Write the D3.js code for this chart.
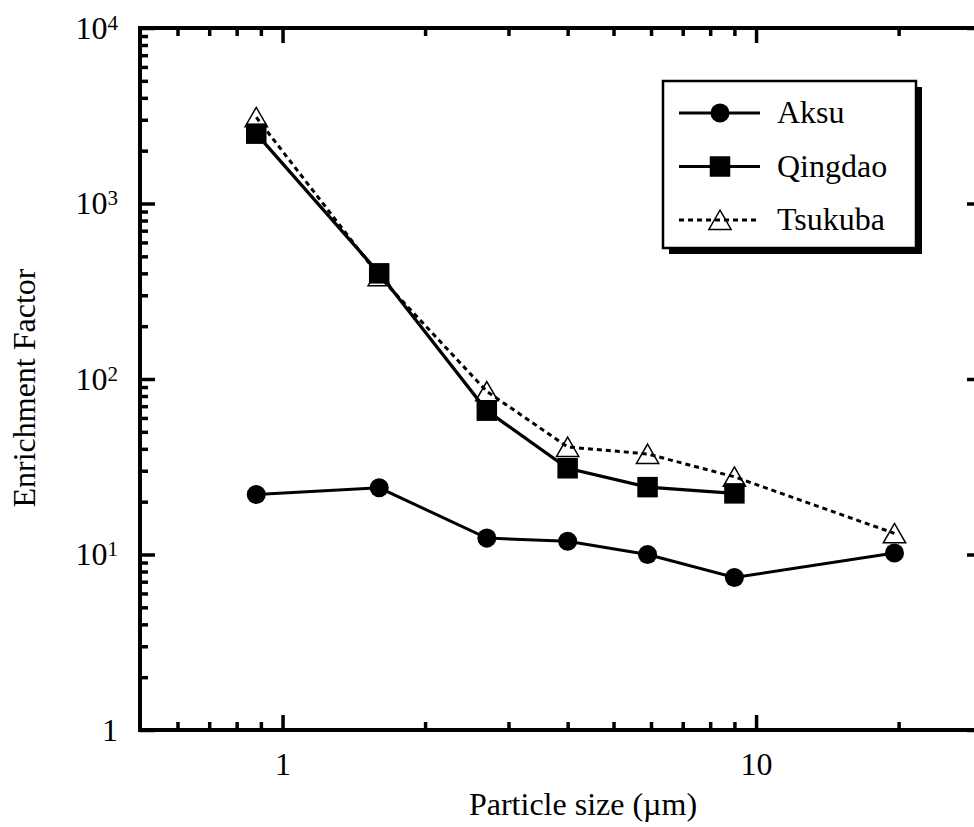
<!DOCTYPE html>
<html>
<head>
<meta charset="utf-8">
<script src="https://cdn.jsdelivr.net/npm/d3@7"></script>
<style>
  html, body { margin: 0; padding: 0; background: #fff; }
  svg { display: block; overflow: hidden; }
  text { font-family: "Liberation Serif", "Times New Roman", Times, serif; fill: #000; }
</style>
</head>
<body>
<svg id="chart" width="974" height="827"></svg>
<script>
// Particle size (µm) at each stage
const sizes = [0.88, 1.6, 2.7, 4.0, 5.9, 9.0, 19.6];

// Enrichment factors per site
const aksu    = [22, 24, 12.4, 11.9, 10, 7.4, 10.2];
const qingdao = [2500, 400, 66, 31, 24.2, 22.3];
const tsukuba = [3100, 385, 85, 41, 37.4, 27.7, 13.2];

const seriesNames = ["Aksu", "Qingdao", "Tsukuba"];

// Axis ticks
const xMajor = [1, 10];
const xMinor = [0.6, 0.7, 0.8, 0.9, 2, 3, 4, 5, 6, 7, 8, 9, 20, 30];
const xTickLabels = ["1", "10"];
const yMajor = [1, 10, 100, 1000, 10000];
const yMinor = [1, 10, 100, 1000].flatMap(d => [2, 3, 4, 5, 6, 7, 8, 9].map(k => k * d));
const yExponents = ["", "1", "2", "3", "4"];

const svg = d3.select("#chart");
const FONT = 32;

const plotL = 140, plotR = 982, plotT = 28, plotB = 730;
const x = d3.scaleLog().domain([0.5, 30]).range([plotL, plotR]);
const y = d3.scaleLog().domain([1, 10000]).range([plotB, plotT]);

// ---- axes (ticks point inward on all four sides) ----
function styleAxis(g) {
  g.attr("font-size", FONT).attr("font-family", null);
  g.select(".domain").remove();
  g.selectAll(".tick line").attr("stroke", "#000").attr("stroke-width", 3.5);
  g.selectAll(".tick text").attr("fill", "#000");
}

// bottom
svg.append("g").attr("transform", `translate(0,${plotB})`)
  .call(d3.axisBottom(x).tickValues(xMinor).tickSize(-8).tickFormat(""))
  .call(styleAxis);
svg.append("g").attr("transform", `translate(0,${plotB})`)
  .call(d3.axisBottom(x).tickValues(xMajor).tickSize(-15).tickPadding(22)
    .tickFormat((d, i) => xTickLabels[i]))
  .call(styleAxis);

// top
svg.append("g").attr("transform", `translate(0,${plotT})`)
  .call(d3.axisTop(x).tickValues(xMinor).tickSize(-8).tickFormat(""))
  .call(styleAxis);
svg.append("g").attr("transform", `translate(0,${plotT})`)
  .call(d3.axisTop(x).tickValues(xMajor).tickSize(-15).tickFormat(""))
  .call(styleAxis);

// left
svg.append("g").attr("transform", `translate(${plotL},0)`)
  .call(d3.axisLeft(y).tickValues(yMinor).tickSize(-8).tickFormat(""))
  .call(styleAxis);
const gyl = svg.append("g").attr("transform", `translate(${plotL},0)`)
  .call(d3.axisLeft(y).tickValues(yMajor).tickSize(-15).tickPadding(22).tickFormat(""))
  .call(styleAxis);
gyl.selectAll(".tick text").each(function(d, i) {
  const t = d3.select(this);
  if (yExponents[i] === "") {
    t.text("1");
  } else {
    t.append("tspan").text("10");
    t.append("tspan").attr("font-size", 21).attr("dy", "-0.42em").text(yExponents[i]);
  }
});

// right
svg.append("g").attr("transform", `translate(${plotR},0)`)
  .call(d3.axisRight(y).tickValues(yMinor).tickSize(-8).tickFormat(""))
  .call(styleAxis);
svg.append("g").attr("transform", `translate(${plotR},0)`)
  .call(d3.axisRight(y).tickValues(yMajor).tickSize(-15).tickFormat(""))
  .call(styleAxis);

// frame
svg.append("rect")
  .attr("x", plotL).attr("y", plotT)
  .attr("width", plotR - plotL).attr("height", plotB - plotT)
  .attr("fill", "none").attr("stroke", "#000").attr("stroke-width", 4);

// ---- axis titles ----
svg.append("text")
  .attr("x", 583).attr("y", 815)
  .attr("text-anchor", "middle").attr("font-size", FONT)
  .text("Particle size (\u00b5m)");

svg.append("text")
  .attr("transform", "translate(35,388) rotate(-90)")
  .attr("text-anchor", "middle").attr("font-size", FONT)
  .text("Enrichment Factor");

// ---- series ----
const line = d3.line().x(d => x(d[0])).y(d => y(d[1]));
const pts = vals => vals.map((v, i) => [sizes[i], v]);

const triangle = d3.symbol().type(d3.symbolTriangle).size(215);
const square = d3.symbol().type(d3.symbolSquare).size(420);
const circle = d3.symbol().type(d3.symbolCircle).size(285);
const TRI_SHIFT = 3; // centre the triangle's box on the value

// Tsukuba: dotted line, hollow triangles
svg.append("path").datum(pts(tsukuba)).attr("d", line)
  .attr("fill", "none").attr("stroke", "#000").attr("stroke-width", 3)
  .attr("stroke-dasharray", "5,4");
svg.append("g").selectAll("path").data(pts(tsukuba)).join("path")
  .attr("transform", d => `translate(${x(d[0])},${y(d[1]) + TRI_SHIFT})`)
  .attr("d", triangle)
  .attr("fill", "none").attr("stroke", "#000").attr("stroke-width", 1.5);

// Qingdao: solid line, filled squares
svg.append("path").datum(pts(qingdao)).attr("d", line)
  .attr("fill", "none").attr("stroke", "#000").attr("stroke-width", 3.3);
svg.append("g").selectAll("path").data(pts(qingdao)).join("path")
  .attr("transform", d => `translate(${x(d[0])},${y(d[1])})`)
  .attr("d", square).attr("fill", "#000");

// Aksu: solid line, filled circles
svg.append("path").datum(pts(aksu)).attr("d", line)
  .attr("fill", "none").attr("stroke", "#000").attr("stroke-width", 3);
svg.append("g").selectAll("path").data(pts(aksu)).join("path")
  .attr("transform", d => `translate(${x(d[0])},${y(d[1])})`)
  .attr("d", circle).attr("fill", "#000");

// ---- legend ----
const lg = svg.append("g").attr("transform", "translate(663,81)");
const lw = 253, lh = 167;
lg.append("rect").attr("x", 6).attr("y", 6).attr("width", lw).attr("height", lh).attr("fill", "#000");
lg.append("rect").attr("x", 0).attr("y", 0).attr("width", lw).attr("height", lh)
  .attr("fill", "#fff").attr("stroke", "#000").attr("stroke-width", 2.5);

const legendRows = [
  { name: seriesNames[0], sym: circle, fill: "#000", dash: null, dy: 0 },
  { name: seriesNames[1], sym: square, fill: "#000", dash: null, dy: 0 },
  { name: seriesNames[2], sym: triangle, fill: "none", dash: "5,4", dy: TRI_SHIFT }
];
legendRows.forEach((r, i) => {
  const cy = 32 + i * 53.5;
  lg.append("line").attr("x1", 16).attr("x2", 97).attr("y1", cy).attr("y2", cy)
    .attr("stroke", "#000").attr("stroke-width", 3)
    .attr("stroke-dasharray", r.dash);
  lg.append("path").attr("transform", `translate(57,${cy + r.dy})`).attr("d", r.sym)
    .attr("fill", r.fill)
    .attr("stroke", r.fill === "none" ? "#000" : null)
    .attr("stroke-width", r.fill === "none" ? 1.5 : null);
  lg.append("text").attr("x", 114).attr("y", cy + 10).attr("font-size", FONT).text(r.name);
});
</script>
</body>
</html>
